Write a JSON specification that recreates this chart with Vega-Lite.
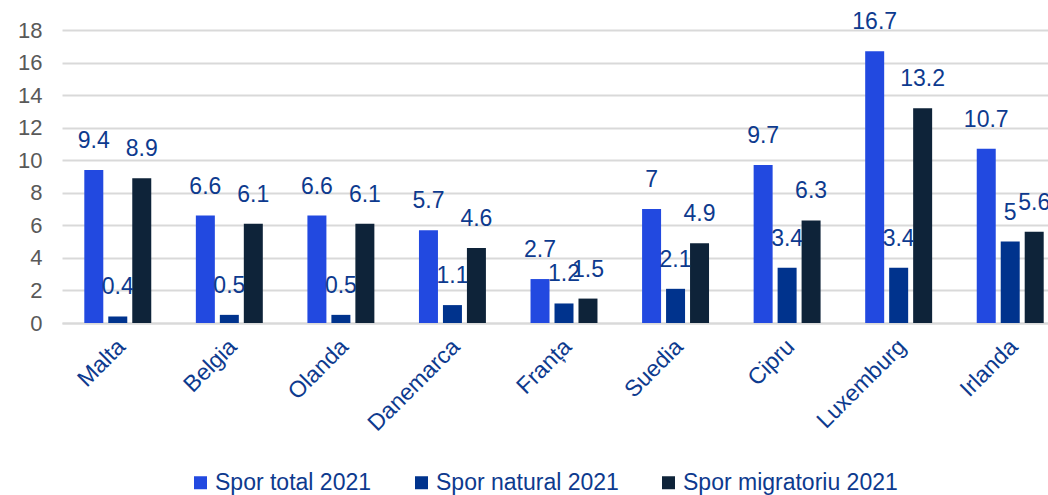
{
  "$schema": "https://vega.github.io/schema/vega-lite/v6.json",
  "autosize": "none",
  "width": 986,
  "height": 293,
  "padding": {"left": 62, "top": 30, "right": 0, "bottom": 172},
  "background": "white",
  "config": {
    "font": "Liberation Sans",
    "view": {"stroke": null}
  },
  "data": {
    "values": [
      {"tara": "Malta", "serie": "Spor total 2021", "val": 9.4},
      {"tara": "Malta", "serie": "Spor natural 2021", "val": 0.4},
      {"tara": "Malta", "serie": "Spor migratoriu 2021", "val": 8.9},
      {"tara": "Belgia", "serie": "Spor total 2021", "val": 6.6},
      {"tara": "Belgia", "serie": "Spor natural 2021", "val": 0.5},
      {"tara": "Belgia", "serie": "Spor migratoriu 2021", "val": 6.1},
      {"tara": "Olanda", "serie": "Spor total 2021", "val": 6.6},
      {"tara": "Olanda", "serie": "Spor natural 2021", "val": 0.5},
      {"tara": "Olanda", "serie": "Spor migratoriu 2021", "val": 6.1},
      {"tara": "Danemarca", "serie": "Spor total 2021", "val": 5.7},
      {"tara": "Danemarca", "serie": "Spor natural 2021", "val": 1.1},
      {"tara": "Danemarca", "serie": "Spor migratoriu 2021", "val": 4.6},
      {"tara": "Franța", "serie": "Spor total 2021", "val": 2.7},
      {"tara": "Franța", "serie": "Spor natural 2021", "val": 1.2},
      {"tara": "Franța", "serie": "Spor migratoriu 2021", "val": 1.5},
      {"tara": "Suedia", "serie": "Spor total 2021", "val": 7},
      {"tara": "Suedia", "serie": "Spor natural 2021", "val": 2.1},
      {"tara": "Suedia", "serie": "Spor migratoriu 2021", "val": 4.9},
      {"tara": "Cipru", "serie": "Spor total 2021", "val": 9.7},
      {"tara": "Cipru", "serie": "Spor natural 2021", "val": 3.4},
      {"tara": "Cipru", "serie": "Spor migratoriu 2021", "val": 6.3},
      {"tara": "Luxemburg", "serie": "Spor total 2021", "val": 16.7},
      {"tara": "Luxemburg", "serie": "Spor natural 2021", "val": 3.4},
      {"tara": "Luxemburg", "serie": "Spor migratoriu 2021", "val": 13.2},
      {"tara": "Irlanda", "serie": "Spor total 2021", "val": 10.7},
      {"tara": "Irlanda", "serie": "Spor natural 2021", "val": 5},
      {"tara": "Irlanda", "serie": "Spor migratoriu 2021", "val": 5.6}
    ]
  },
  "encoding": {
    "x": {
      "field": "tara",
      "type": "nominal",
      "sort": null,
      "scale": {"range": [0, 1004], "paddingInner": 0, "paddingOuter": 0},
      "axis": {
        "title": null,
        "labelAngle": -45,
        "labelFontSize": 23,
        "labelColor": "#0D3A8E",
        "labelPadding": 12,
        "labelOffset": -4,
        "ticks": false,
        "domainColor": "#D9D9D9",
        "domainWidth": 2
      }
    },
    "xOffset": {
      "field": "serie",
      "type": "nominal",
      "sort": ["Spor total 2021", "Spor natural 2021", "Spor migratoriu 2021"],
      "scale": {"paddingInner": 0.208, "paddingOuter": 0.93}
    },
    "y": {
      "field": "val",
      "type": "quantitative",
      "scale": {"domain": [0, 18], "nice": false},
      "axis": {
        "title": null,
        "values": [0, 2, 4, 6, 8, 10, 12, 14, 16, 18],
        "labelFontSize": 22,
        "labelColor": "#595959",
        "labelPadding": 20,
        "ticks": false,
        "domain": false,
        "gridColor": "#D9D9D9",
        "gridWidth": 2
      }
    }
  },
  "layer": [
    {
      "mark": {"type": "bar", "clip": false},
      "encoding": {
        "color": {
          "field": "serie",
          "type": "nominal",
          "sort": ["Spor total 2021", "Spor natural 2021", "Spor migratoriu 2021"],
          "scale": {
            "domain": ["Spor total 2021", "Spor natural 2021", "Spor migratoriu 2021"],
            "range": ["#2249E0", "#00338D", "#0E2339"]
          },
          "legend": {
            "title": null,
            "orient": "none",
            "legendX": 127,
            "legendY": 441,
            "direction": "horizontal",
            "symbolType": "square",
            "symbolSize": 169,
            "symbolStrokeWidth": 0,
            "labelFontSize": 23,
            "labelColor": "#0D3A8E",
            "labelLimit": 0,
            "columnPadding": 38,
            "labelOffset": 3
          }
        }
      }
    },
    {
      "mark": {
        "type": "text",
        "baseline": "bottom",
        "dy": -17,
        "fontSize": 23,
        "color": "#0D3A8E",
        "clip": false
      },
      "encoding": {
        "text": {"field": "val", "type": "nominal"}
      }
    }
  ]
}
